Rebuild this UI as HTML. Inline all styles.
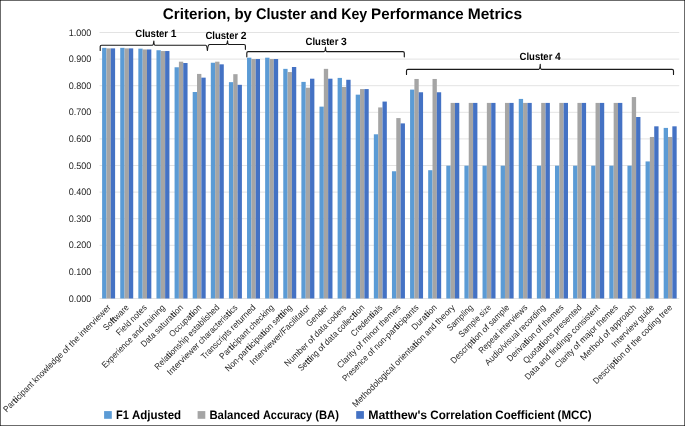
<!DOCTYPE html>
<html><head><meta charset="utf-8"><title>Criterion, by Cluster and Key Performance Metrics</title>
<style>
html,body{margin:0;padding:0;background:#fff;}
svg{display:block;font-family:"Liberation Sans", sans-serif;text-rendering:geometricPrecision;}
.ax{font-size:8.8px;fill:#262626;}
.ay{font-size:9.5px;fill:#262626;}
.cl{font-size:10.5px;font-weight:bold;fill:#000;}
.lg{font-size:12.2px;font-weight:bold;fill:#000;}
.ti{font-size:15.3px;font-weight:bold;fill:#000;}
.br{fill:none;stroke:#1a1a1a;stroke-width:1.15;stroke-linecap:round;stroke-linejoin:round;}
</style></head><body>
<svg width="685" height="426" viewBox="0 0 685 426">
<rect x="0" y="0" width="685" height="426" fill="#fff"/>

<line x1="99.55" x2="679.23" y1="32.50" y2="32.50" stroke="#D9D9D9" stroke-width="0.75"/>
<line x1="99.55" x2="679.23" y1="59.10" y2="59.10" stroke="#D9D9D9" stroke-width="0.75"/>
<line x1="99.55" x2="679.23" y1="85.70" y2="85.70" stroke="#D9D9D9" stroke-width="0.75"/>
<line x1="99.55" x2="679.23" y1="112.30" y2="112.30" stroke="#D9D9D9" stroke-width="0.75"/>
<line x1="99.55" x2="679.23" y1="138.90" y2="138.90" stroke="#D9D9D9" stroke-width="0.75"/>
<line x1="99.55" x2="679.23" y1="165.50" y2="165.50" stroke="#D9D9D9" stroke-width="0.75"/>
<line x1="99.55" x2="679.23" y1="192.10" y2="192.10" stroke="#D9D9D9" stroke-width="0.75"/>
<line x1="99.55" x2="679.23" y1="218.70" y2="218.70" stroke="#D9D9D9" stroke-width="0.75"/>
<line x1="99.55" x2="679.23" y1="245.30" y2="245.30" stroke="#D9D9D9" stroke-width="0.75"/>
<line x1="99.55" x2="679.23" y1="271.90" y2="271.90" stroke="#D9D9D9" stroke-width="0.75"/>
<line x1="99.55" x2="679.23" y1="298.50" y2="298.50" stroke="#D9D9D9" stroke-width="0.75"/>
<text class="ay" x="91.3" y="35.60" text-anchor="end" textLength="22.6" lengthAdjust="spacingAndGlyphs">1.000</text>
<text class="ay" x="91.3" y="62.20" text-anchor="end" textLength="22.6" lengthAdjust="spacingAndGlyphs">0.900</text>
<text class="ay" x="91.3" y="88.80" text-anchor="end" textLength="22.6" lengthAdjust="spacingAndGlyphs">0.800</text>
<text class="ay" x="91.3" y="115.40" text-anchor="end" textLength="22.6" lengthAdjust="spacingAndGlyphs">0.700</text>
<text class="ay" x="91.3" y="142.00" text-anchor="end" textLength="22.6" lengthAdjust="spacingAndGlyphs">0.600</text>
<text class="ay" x="91.3" y="168.60" text-anchor="end" textLength="22.6" lengthAdjust="spacingAndGlyphs">0.500</text>
<text class="ay" x="91.3" y="195.20" text-anchor="end" textLength="22.6" lengthAdjust="spacingAndGlyphs">0.400</text>
<text class="ay" x="91.3" y="221.80" text-anchor="end" textLength="22.6" lengthAdjust="spacingAndGlyphs">0.300</text>
<text class="ay" x="91.3" y="248.40" text-anchor="end" textLength="22.6" lengthAdjust="spacingAndGlyphs">0.200</text>
<text class="ay" x="91.3" y="275.00" text-anchor="end" textLength="22.6" lengthAdjust="spacingAndGlyphs">0.100</text>
<text class="ay" x="91.3" y="301.60" text-anchor="end" textLength="22.6" lengthAdjust="spacingAndGlyphs">0.000</text>
<rect x="102.11" y="47.85" width="4.33" height="250.65" fill="#5B9BD5"/>
<rect x="106.44" y="48.38" width="4.33" height="250.12" fill="#A5A5A5"/>
<rect x="110.77" y="48.38" width="4.33" height="250.12" fill="#4472C4"/>
<rect x="120.23" y="47.85" width="4.33" height="250.65" fill="#5B9BD5"/>
<rect x="124.56" y="48.38" width="4.33" height="250.12" fill="#A5A5A5"/>
<rect x="128.89" y="48.38" width="4.33" height="250.12" fill="#4472C4"/>
<rect x="138.34" y="48.65" width="4.33" height="249.85" fill="#5B9BD5"/>
<rect x="142.67" y="49.44" width="4.33" height="249.06" fill="#A5A5A5"/>
<rect x="147.00" y="49.44" width="4.33" height="249.06" fill="#4472C4"/>
<rect x="156.46" y="50.24" width="4.33" height="248.26" fill="#5B9BD5"/>
<rect x="160.79" y="51.04" width="4.33" height="247.46" fill="#A5A5A5"/>
<rect x="165.12" y="51.04" width="4.33" height="247.46" fill="#4472C4"/>
<rect x="174.57" y="67.27" width="4.33" height="231.23" fill="#5B9BD5"/>
<rect x="178.90" y="61.68" width="4.33" height="236.82" fill="#A5A5A5"/>
<rect x="183.23" y="63.01" width="4.33" height="235.49" fill="#4472C4"/>
<rect x="192.69" y="92.00" width="4.33" height="206.50" fill="#5B9BD5"/>
<rect x="197.02" y="73.92" width="4.33" height="224.58" fill="#A5A5A5"/>
<rect x="201.35" y="77.64" width="4.33" height="220.86" fill="#4472C4"/>
<rect x="210.80" y="62.74" width="4.33" height="235.76" fill="#5B9BD5"/>
<rect x="215.13" y="61.68" width="4.33" height="236.82" fill="#A5A5A5"/>
<rect x="219.46" y="64.34" width="4.33" height="234.16" fill="#4472C4"/>
<rect x="228.92" y="82.16" width="4.33" height="216.34" fill="#5B9BD5"/>
<rect x="233.25" y="74.18" width="4.33" height="224.32" fill="#A5A5A5"/>
<rect x="237.58" y="84.82" width="4.33" height="213.68" fill="#4472C4"/>
<rect x="247.03" y="57.69" width="4.33" height="240.81" fill="#5B9BD5"/>
<rect x="251.36" y="59.02" width="4.33" height="239.48" fill="#A5A5A5"/>
<rect x="255.69" y="59.02" width="4.33" height="239.48" fill="#4472C4"/>
<rect x="265.15" y="57.69" width="4.33" height="240.81" fill="#5B9BD5"/>
<rect x="269.48" y="59.02" width="4.33" height="239.48" fill="#A5A5A5"/>
<rect x="273.81" y="59.02" width="4.33" height="239.48" fill="#4472C4"/>
<rect x="283.26" y="68.86" width="4.33" height="229.64" fill="#5B9BD5"/>
<rect x="287.59" y="72.05" width="4.33" height="226.45" fill="#A5A5A5"/>
<rect x="291.92" y="67.00" width="4.33" height="231.50" fill="#4472C4"/>
<rect x="301.38" y="81.90" width="4.33" height="216.60" fill="#5B9BD5"/>
<rect x="305.71" y="87.75" width="4.33" height="210.75" fill="#A5A5A5"/>
<rect x="310.04" y="78.70" width="4.33" height="219.80" fill="#4472C4"/>
<rect x="319.49" y="106.63" width="4.33" height="191.87" fill="#5B9BD5"/>
<rect x="323.82" y="68.86" width="4.33" height="229.64" fill="#A5A5A5"/>
<rect x="328.15" y="78.70" width="4.33" height="219.80" fill="#4472C4"/>
<rect x="337.61" y="77.91" width="4.33" height="220.59" fill="#5B9BD5"/>
<rect x="341.94" y="86.95" width="4.33" height="211.55" fill="#A5A5A5"/>
<rect x="346.27" y="79.77" width="4.33" height="218.73" fill="#4472C4"/>
<rect x="355.72" y="94.66" width="4.33" height="203.84" fill="#5B9BD5"/>
<rect x="360.05" y="89.08" width="4.33" height="209.42" fill="#A5A5A5"/>
<rect x="364.38" y="89.08" width="4.33" height="209.42" fill="#4472C4"/>
<rect x="373.84" y="134.30" width="4.33" height="164.20" fill="#5B9BD5"/>
<rect x="378.17" y="107.43" width="4.33" height="191.07" fill="#A5A5A5"/>
<rect x="382.50" y="101.58" width="4.33" height="196.92" fill="#4472C4"/>
<rect x="391.95" y="171.27" width="4.33" height="127.23" fill="#5B9BD5"/>
<rect x="396.28" y="118.07" width="4.33" height="180.43" fill="#A5A5A5"/>
<rect x="400.61" y="123.39" width="4.33" height="175.11" fill="#4472C4"/>
<rect x="410.07" y="89.61" width="4.33" height="208.89" fill="#5B9BD5"/>
<rect x="414.40" y="78.97" width="4.33" height="219.53" fill="#A5A5A5"/>
<rect x="418.73" y="92.27" width="4.33" height="206.23" fill="#4472C4"/>
<rect x="428.18" y="170.21" width="4.33" height="128.29" fill="#5B9BD5"/>
<rect x="432.51" y="78.97" width="4.33" height="219.53" fill="#A5A5A5"/>
<rect x="436.84" y="92.27" width="4.33" height="206.23" fill="#4472C4"/>
<rect x="446.30" y="165.69" width="4.33" height="132.81" fill="#5B9BD5"/>
<rect x="450.63" y="102.91" width="4.33" height="195.59" fill="#A5A5A5"/>
<rect x="454.96" y="102.91" width="4.33" height="195.59" fill="#4472C4"/>
<rect x="464.41" y="165.69" width="4.33" height="132.81" fill="#5B9BD5"/>
<rect x="468.74" y="102.91" width="4.33" height="195.59" fill="#A5A5A5"/>
<rect x="473.07" y="102.91" width="4.33" height="195.59" fill="#4472C4"/>
<rect x="482.53" y="165.69" width="4.33" height="132.81" fill="#5B9BD5"/>
<rect x="486.86" y="102.91" width="4.33" height="195.59" fill="#A5A5A5"/>
<rect x="491.19" y="102.91" width="4.33" height="195.59" fill="#4472C4"/>
<rect x="500.64" y="165.69" width="4.33" height="132.81" fill="#5B9BD5"/>
<rect x="504.97" y="102.91" width="4.33" height="195.59" fill="#A5A5A5"/>
<rect x="509.30" y="102.91" width="4.33" height="195.59" fill="#4472C4"/>
<rect x="518.76" y="98.92" width="4.33" height="199.58" fill="#5B9BD5"/>
<rect x="523.09" y="102.91" width="4.33" height="195.59" fill="#A5A5A5"/>
<rect x="527.42" y="102.91" width="4.33" height="195.59" fill="#4472C4"/>
<rect x="536.87" y="165.69" width="4.33" height="132.81" fill="#5B9BD5"/>
<rect x="541.20" y="102.91" width="4.33" height="195.59" fill="#A5A5A5"/>
<rect x="545.53" y="102.91" width="4.33" height="195.59" fill="#4472C4"/>
<rect x="554.99" y="165.69" width="4.33" height="132.81" fill="#5B9BD5"/>
<rect x="559.32" y="102.91" width="4.33" height="195.59" fill="#A5A5A5"/>
<rect x="563.65" y="102.91" width="4.33" height="195.59" fill="#4472C4"/>
<rect x="573.10" y="165.69" width="4.33" height="132.81" fill="#5B9BD5"/>
<rect x="577.43" y="102.91" width="4.33" height="195.59" fill="#A5A5A5"/>
<rect x="581.76" y="102.91" width="4.33" height="195.59" fill="#4472C4"/>
<rect x="591.22" y="165.69" width="4.33" height="132.81" fill="#5B9BD5"/>
<rect x="595.55" y="102.91" width="4.33" height="195.59" fill="#A5A5A5"/>
<rect x="599.88" y="102.91" width="4.33" height="195.59" fill="#4472C4"/>
<rect x="609.33" y="165.69" width="4.33" height="132.81" fill="#5B9BD5"/>
<rect x="613.66" y="102.91" width="4.33" height="195.59" fill="#A5A5A5"/>
<rect x="617.99" y="102.91" width="4.33" height="195.59" fill="#4472C4"/>
<rect x="627.45" y="165.69" width="4.33" height="132.81" fill="#5B9BD5"/>
<rect x="631.78" y="97.06" width="4.33" height="201.44" fill="#A5A5A5"/>
<rect x="636.11" y="117.01" width="4.33" height="181.49" fill="#4472C4"/>
<rect x="645.56" y="161.43" width="4.33" height="137.07" fill="#5B9BD5"/>
<rect x="649.89" y="136.96" width="4.33" height="161.54" fill="#A5A5A5"/>
<rect x="654.22" y="126.32" width="4.33" height="172.18" fill="#4472C4"/>
<rect x="663.68" y="127.91" width="4.33" height="170.59" fill="#5B9BD5"/>
<rect x="668.01" y="136.96" width="4.33" height="161.54" fill="#A5A5A5"/>
<rect x="672.34" y="126.32" width="4.33" height="172.18" fill="#4472C4"/>
<path class="br" d="M100.2 50.4V46.6Q100.2 45.2 101.6 45.2H152.3Q153.5 45.2 153.85 41.0Q153.9 45.2 155.1 45.2H205.6Q207.0 45.2 207.4 50.4"/>
<path class="br" d="M207.5 49.9Q207.9 44.5 209.7 44.5H226.0Q227.2 44.5 227.55 40.8Q227.6 44.5 228.8 44.5H244.0Q245.4 44.5 245.4 45.9V49.3"/>
<path class="br" d="M246.8 56.8V53.0Q246.8 51.6 248.2 51.6H324.0Q325.2 51.6 325.55 47.2Q325.6 51.6 326.8 51.6H402.9Q404.3 51.6 404.3 53.0V56.8"/>
<path class="br" d="M406.5 74.5V70.7Q406.5 69.3 407.9 69.3H538.7Q539.9 69.3 540.25 64.3Q540.3 69.3 541.5 69.3H672.1Q673.5 69.3 673.5 70.7V74.5"/>
<text class="cl" y="36.90"><tspan x="135.30" textLength="32.77" lengthAdjust="spacingAndGlyphs">Cluster</tspan> <tspan x="170.63" textLength="5.74" lengthAdjust="spacingAndGlyphs">1</tspan></text>
<text class="cl" y="38.60"><tspan x="205.40" textLength="32.77" lengthAdjust="spacingAndGlyphs">Cluster</tspan> <tspan x="240.73" textLength="5.74" lengthAdjust="spacingAndGlyphs">2</tspan></text>
<text class="cl" y="44.50"><tspan x="305.60" textLength="32.77" lengthAdjust="spacingAndGlyphs">Cluster</tspan> <tspan x="340.93" textLength="5.74" lengthAdjust="spacingAndGlyphs">3</tspan></text>
<text class="cl" y="59.70"><tspan x="519.60" textLength="32.77" lengthAdjust="spacingAndGlyphs">Cluster</tspan> <tspan x="554.93" textLength="5.74" lengthAdjust="spacingAndGlyphs">4</tspan></text>
<text class="ti" y="19.30"><tspan x="162.80" textLength="67.77" lengthAdjust="spacingAndGlyphs">Criterion,</tspan> <tspan x="234.49" textLength="17.45" lengthAdjust="spacingAndGlyphs">by</tspan> <tspan x="255.88" textLength="50.24" lengthAdjust="spacingAndGlyphs">Cluster</tspan> <tspan x="310.05" textLength="27.22" lengthAdjust="spacingAndGlyphs">and</tspan> <tspan x="341.19" textLength="26.00" lengthAdjust="spacingAndGlyphs">Key</tspan> <tspan x="371.11" textLength="92.67" lengthAdjust="spacingAndGlyphs">Performance</tspan> <tspan x="467.71" textLength="54.47" lengthAdjust="spacingAndGlyphs">Metrics</tspan></text>
<text class="ax" transform="translate(111.31,308.10) rotate(-45)" y="0.00"><tspan x="-147.89" textLength="39.17" lengthAdjust="spacingAndGlyphs">Par<tspan font-weight="bold">ti</tspan>cipant</tspan> <tspan x="-106.70" textLength="39.56" lengthAdjust="spacingAndGlyphs">knowledge</tspan> <tspan x="-65.12" textLength="7.43" lengthAdjust="spacingAndGlyphs">of</tspan> <tspan x="-55.67" textLength="12.12" lengthAdjust="spacingAndGlyphs">the</tspan> <tspan x="-41.53" textLength="41.53" lengthAdjust="spacingAndGlyphs">interviewer</tspan></text>
<text class="ax" transform="translate(129.42,308.10) rotate(-45)" y="0.00"><tspan x="-32.30" textLength="32.30" lengthAdjust="spacingAndGlyphs">So<tspan font-weight="bold">ft</tspan>ware</tspan></text>
<text class="ax" transform="translate(147.54,308.10) rotate(-45)" y="0.00"><tspan x="-39.58" textLength="17.33" lengthAdjust="spacingAndGlyphs">Field</tspan> <tspan x="-20.23" textLength="20.23" lengthAdjust="spacingAndGlyphs">notes</tspan></text>
<text class="ax" transform="translate(165.65,308.10) rotate(-45)" y="0.00"><tspan x="-85.44" textLength="39.87" lengthAdjust="spacingAndGlyphs">Experience</tspan> <tspan x="-43.55" textLength="13.66" lengthAdjust="spacingAndGlyphs">and</tspan> <tspan x="-27.88" textLength="27.88" lengthAdjust="spacingAndGlyphs">training</tspan></text>
<text class="ax" transform="translate(183.77,308.10) rotate(-45)" y="0.00"><tspan x="-55.73" textLength="16.84" lengthAdjust="spacingAndGlyphs">Data</tspan> <tspan x="-36.86" textLength="36.86" lengthAdjust="spacingAndGlyphs">satura<tspan font-weight="bold">ti</tspan>on</tspan></text>
<text class="ax" transform="translate(201.88,308.10) rotate(-45)" y="0.00"><tspan x="-41.41" textLength="41.41" lengthAdjust="spacingAndGlyphs">Occupa<tspan font-weight="bold">ti</tspan>on</tspan></text>
<text class="ax" transform="translate(220.00,308.10) rotate(-45)" y="0.00"><tspan x="-87.78" textLength="44.67" lengthAdjust="spacingAndGlyphs">Rela<tspan font-weight="bold">ti</tspan>onship</tspan> <tspan x="-41.10" textLength="41.10" lengthAdjust="spacingAndGlyphs">established</tspan></text>
<text class="ax" transform="translate(238.11,308.10) rotate(-45)" y="0.00"><tspan x="-95.60" textLength="41.73" lengthAdjust="spacingAndGlyphs">Interviewer</tspan> <tspan x="-51.85" textLength="51.85" lengthAdjust="spacingAndGlyphs">characteris<tspan font-weight="bold">ti</tspan>cs</tspan></text>
<text class="ax" transform="translate(256.23,308.10) rotate(-45)" y="0.00"><tspan x="-73.28" textLength="39.26" lengthAdjust="spacingAndGlyphs">Transcripts</tspan> <tspan x="-32.01" textLength="32.01" lengthAdjust="spacingAndGlyphs">returned</tspan></text>
<text class="ax" transform="translate(274.34,308.10) rotate(-45)" y="0.00"><tspan x="-72.88" textLength="39.17" lengthAdjust="spacingAndGlyphs">Par<tspan font-weight="bold">ti</tspan>cipant</tspan> <tspan x="-31.68" textLength="31.68" lengthAdjust="spacingAndGlyphs">checking</tspan></text>
<text class="ax" transform="translate(292.46,308.10) rotate(-45)" y="0.00"><tspan x="-90.47" textLength="64.03" lengthAdjust="spacingAndGlyphs">Non-par<tspan font-weight="bold">ti</tspan>cipa<tspan font-weight="bold">ti</tspan>on</tspan> <tspan x="-24.42" textLength="24.42" lengthAdjust="spacingAndGlyphs">se<tspan font-weight="bold">tti</tspan>ng</tspan></text>
<text class="ax" transform="translate(310.57,308.10) rotate(-45)" y="0.00"><tspan x="-81.04" textLength="81.04" lengthAdjust="spacingAndGlyphs">Interviewer/Facilitator</tspan></text>
<text class="ax" transform="translate(328.69,308.10) rotate(-45)" y="0.00"><tspan x="-27.01" textLength="27.01" lengthAdjust="spacingAndGlyphs">Gender</tspan></text>
<text class="ax" transform="translate(346.80,308.10) rotate(-45)" y="0.00"><tspan x="-83.36" textLength="29.83" lengthAdjust="spacingAndGlyphs">Number</tspan> <tspan x="-51.51" textLength="7.43" lengthAdjust="spacingAndGlyphs">of</tspan> <tspan x="-42.05" textLength="16.04" lengthAdjust="spacingAndGlyphs">data</tspan> <tspan x="-23.99" textLength="23.99" lengthAdjust="spacingAndGlyphs">coders</tspan></text>
<text class="ax" transform="translate(364.92,308.10) rotate(-45)" y="0.00"><tspan x="-89.66" textLength="25.03" lengthAdjust="spacingAndGlyphs">Se<tspan font-weight="bold">tti</tspan>ng</tspan> <tspan x="-62.61" textLength="7.43" lengthAdjust="spacingAndGlyphs">of</tspan> <tspan x="-53.16" textLength="16.04" lengthAdjust="spacingAndGlyphs">data</tspan> <tspan x="-35.10" textLength="35.10" lengthAdjust="spacingAndGlyphs">collec<tspan font-weight="bold">ti</tspan>on</tspan></text>
<text class="ax" transform="translate(383.03,308.10) rotate(-45)" y="0.00"><tspan x="-40.73" textLength="40.73" lengthAdjust="spacingAndGlyphs">Creden<tspan font-weight="bold">ti</tspan>als</tspan></text>
<text class="ax" transform="translate(401.15,308.10) rotate(-45)" y="0.00"><tspan x="-85.65" textLength="23.28" lengthAdjust="spacingAndGlyphs">Clarity</tspan> <tspan x="-60.35" textLength="7.43" lengthAdjust="spacingAndGlyphs">of</tspan> <tspan x="-50.90" textLength="21.69" lengthAdjust="spacingAndGlyphs">minor</tspan> <tspan x="-27.19" textLength="27.19" lengthAdjust="spacingAndGlyphs">themes</tspan></text>
<text class="ax" transform="translate(419.26,308.10) rotate(-45)" y="0.00"><tspan x="-104.12" textLength="32.89" lengthAdjust="spacingAndGlyphs">Presence</tspan> <tspan x="-69.21" textLength="7.43" lengthAdjust="spacingAndGlyphs">of</tspan> <tspan x="-59.76" textLength="59.76" lengthAdjust="spacingAndGlyphs">non-par<tspan font-weight="bold">ti</tspan>cipants</tspan></text>
<text class="ax" transform="translate(437.38,308.10) rotate(-45)" y="0.00"><tspan x="-31.68" textLength="31.68" lengthAdjust="spacingAndGlyphs">Dura<tspan font-weight="bold">ti</tspan>on</tspan></text>
<text class="ax" transform="translate(455.49,308.10) rotate(-45)" y="0.00"><tspan x="-140.96" textLength="56.85" lengthAdjust="spacingAndGlyphs">Methodological</tspan> <tspan x="-82.09" textLength="40.37" lengthAdjust="spacingAndGlyphs">orienta<tspan font-weight="bold">ti</tspan>on</tspan> <tspan x="-39.71" textLength="13.66" lengthAdjust="spacingAndGlyphs">and</tspan> <tspan x="-24.03" textLength="24.03" lengthAdjust="spacingAndGlyphs">theory</tspan></text>
<text class="ax" transform="translate(473.61,308.10) rotate(-45)" y="0.00"><tspan x="-33.19" textLength="33.19" lengthAdjust="spacingAndGlyphs">Sampling</tspan></text>
<text class="ax" transform="translate(491.72,308.10) rotate(-45)" y="0.00"><tspan x="-42.02" textLength="26.69" lengthAdjust="spacingAndGlyphs">Sample</tspan> <tspan x="-13.31" textLength="13.31" lengthAdjust="spacingAndGlyphs">size</tspan></text>
<text class="ax" transform="translate(509.84,308.10) rotate(-45)" y="0.00"><tspan x="-78.94" textLength="41.39" lengthAdjust="spacingAndGlyphs">Descrip<tspan font-weight="bold">ti</tspan>on</tspan> <tspan x="-35.53" textLength="7.43" lengthAdjust="spacingAndGlyphs">of</tspan> <tspan x="-26.08" textLength="26.08" lengthAdjust="spacingAndGlyphs">sample</tspan></text>
<text class="ax" transform="translate(527.95,308.10) rotate(-45)" y="0.00"><tspan x="-64.93" textLength="25.45" lengthAdjust="spacingAndGlyphs">Repeat</tspan> <tspan x="-37.46" textLength="37.46" lengthAdjust="spacingAndGlyphs">interviews</tspan></text>
<text class="ax" transform="translate(546.07,308.10) rotate(-45)" y="0.00"><tspan x="-81.83" textLength="45.34" lengthAdjust="spacingAndGlyphs">Audio/visual</tspan> <tspan x="-34.47" textLength="34.47" lengthAdjust="spacingAndGlyphs">recording</tspan></text>
<text class="ax" transform="translate(564.18,308.10) rotate(-45)" y="0.00"><tspan x="-76.22" textLength="37.56" lengthAdjust="spacingAndGlyphs">Deriva<tspan font-weight="bold">ti</tspan>on</tspan> <tspan x="-36.64" textLength="7.43" lengthAdjust="spacingAndGlyphs">of</tspan> <tspan x="-27.19" textLength="27.19" lengthAdjust="spacingAndGlyphs">themes</tspan></text>
<text class="ax" transform="translate(582.30,308.10) rotate(-45)" y="0.00"><tspan x="-79.06" textLength="40.35" lengthAdjust="spacingAndGlyphs">Quota<tspan font-weight="bold">ti</tspan>ons</tspan> <tspan x="-36.70" textLength="36.70" lengthAdjust="spacingAndGlyphs">presented</tspan></text>
<text class="ax" transform="translate(600.41,308.10) rotate(-45)" y="0.00"><tspan x="-102.07" textLength="16.84" lengthAdjust="spacingAndGlyphs">Data</tspan> <tspan x="-83.20" textLength="13.66" lengthAdjust="spacingAndGlyphs">and</tspan> <tspan x="-67.53" textLength="28.54" lengthAdjust="spacingAndGlyphs">findings</tspan> <tspan x="-36.97" textLength="36.97" lengthAdjust="spacingAndGlyphs">consistent</tspan></text>
<text class="ax" transform="translate(618.53,308.10) rotate(-45)" y="0.00"><tspan x="-85.32" textLength="23.28" lengthAdjust="spacingAndGlyphs">Clarity</tspan> <tspan x="-60.02" textLength="7.43" lengthAdjust="spacingAndGlyphs">of</tspan> <tspan x="-50.57" textLength="21.37" lengthAdjust="spacingAndGlyphs">major</tspan> <tspan x="-27.19" textLength="27.19" lengthAdjust="spacingAndGlyphs">themes</tspan></text>
<text class="ax" transform="translate(636.64,308.10) rotate(-45)" y="0.00"><tspan x="-74.65" textLength="29.11" lengthAdjust="spacingAndGlyphs">Method</tspan> <tspan x="-43.53" textLength="7.43" lengthAdjust="spacingAndGlyphs">of</tspan> <tspan x="-34.08" textLength="34.08" lengthAdjust="spacingAndGlyphs">approach</tspan></text>
<text class="ax" transform="translate(654.76,308.10) rotate(-45)" y="0.00"><tspan x="-56.34" textLength="34.25" lengthAdjust="spacingAndGlyphs">Interview</tspan> <tspan x="-20.07" textLength="20.07" lengthAdjust="spacingAndGlyphs">guide</tspan></text>
<text class="ax" transform="translate(672.87,308.10) rotate(-45)" y="0.00"><tspan x="-107.93" textLength="41.39" lengthAdjust="spacingAndGlyphs">Descrip<tspan font-weight="bold">ti</tspan>on</tspan> <tspan x="-64.52" textLength="7.43" lengthAdjust="spacingAndGlyphs">of</tspan> <tspan x="-55.07" textLength="12.12" lengthAdjust="spacingAndGlyphs">the</tspan> <tspan x="-40.93" textLength="24.04" lengthAdjust="spacingAndGlyphs">coding</tspan> <tspan x="-14.87" textLength="14.87" lengthAdjust="spacingAndGlyphs">tree</tspan></text>
<rect x="104.1" y="411.1" width="7.7" height="7.7" fill="#5B9BD5"/>
<text class="lg" y="418.60"><tspan x="116.00" textLength="12.87" lengthAdjust="spacingAndGlyphs">F1</tspan> <tspan x="131.89" textLength="49.28" lengthAdjust="spacingAndGlyphs">Adjusted</tspan></text>
<rect x="197.6" y="411.1" width="7.7" height="7.7" fill="#A5A5A5"/>
<text class="lg" y="418.60"><tspan x="209.40" textLength="50.50" lengthAdjust="spacingAndGlyphs">Balanced</tspan> <tspan x="262.92" textLength="49.30" lengthAdjust="spacingAndGlyphs">Accuracy</tspan> <tspan x="315.23" textLength="23.72" lengthAdjust="spacingAndGlyphs">(BA)</tspan></text>
<rect x="356.2" y="411.1" width="7.7" height="7.7" fill="#4472C4"/>
<text class="lg" y="418.60"><tspan x="368.20" textLength="59.02" lengthAdjust="spacingAndGlyphs">Matthew's</tspan> <tspan x="430.23" textLength="62.11" lengthAdjust="spacingAndGlyphs">Correlation</tspan> <tspan x="495.36" textLength="59.23" lengthAdjust="spacingAndGlyphs">Coefficient</tspan> <tspan x="557.60" textLength="34.07" lengthAdjust="spacingAndGlyphs">(MCC)</tspan></text>
<g fill="#000" fill-opacity="0.58"><rect x="0" y="0" width="685" height="1"/><rect x="0" y="425" width="685" height="1"/><rect x="0" y="0" width="1" height="426"/><rect x="684" y="0" width="1" height="426"/></g>
</svg></body></html>
